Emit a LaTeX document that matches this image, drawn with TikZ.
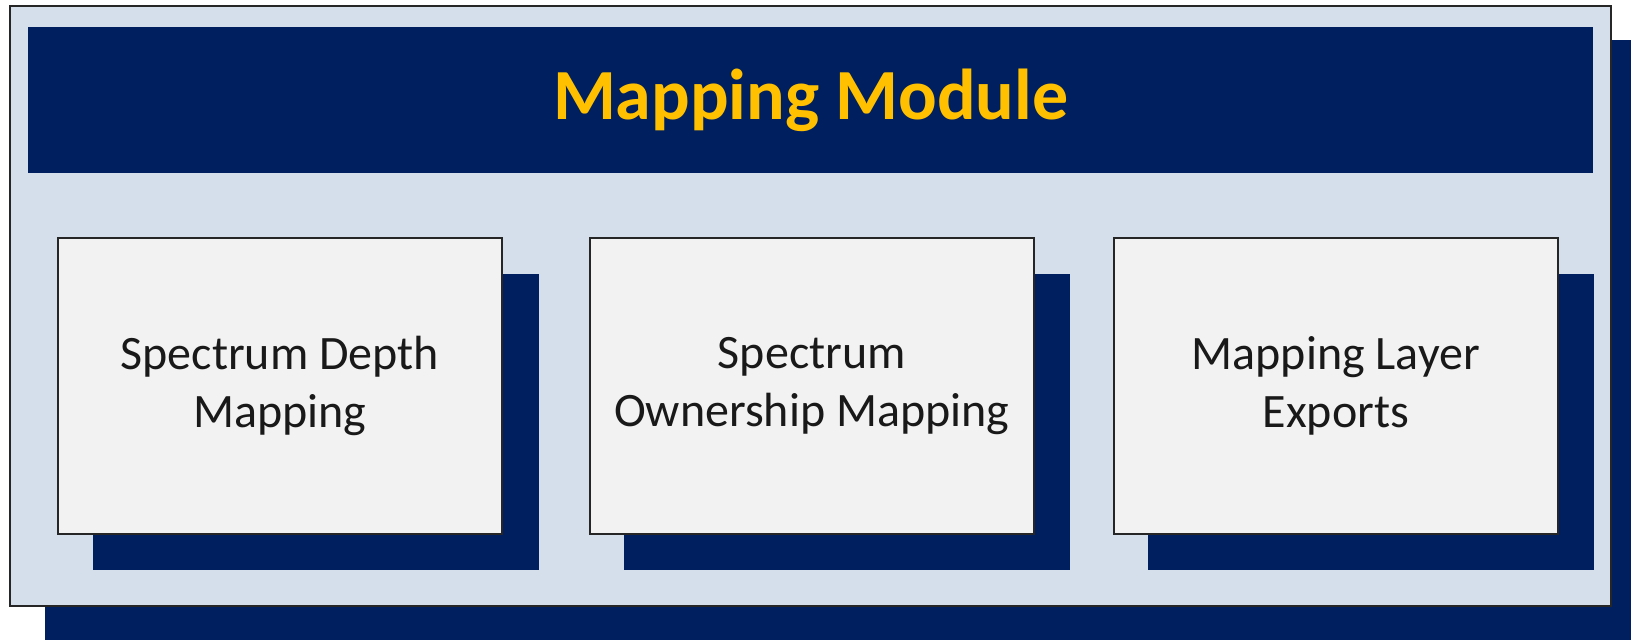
\documentclass[tikz,border=0pt]{standalone}
\usepackage{fontspec}
\setmainfont{Carlito}
\definecolor{navy}{HTML}{001F5F}
\definecolor{paleblue}{HTML}{D5DFEB}
\definecolor{boxgray}{HTML}{F2F2F2}
\definecolor{gold}{HTML}{FFC000}
\begin{document}
\begin{tikzpicture}[x=1pt,y=-1pt,
  shadowbox/.style={fill=navy,draw=none,anchor=north west,inner sep=0pt,minimum width=446pt,minimum height=296pt},
  modbox/.style={fill=boxgray,draw=black!85,line width=1.6pt,anchor=north west,inner sep=0pt,
    minimum width=444pt,minimum height=296pt,align=center,
    font=\fontsize{48}{57.6}\selectfont,text=black!90}]
\useasboundingbox (0,0) rectangle (1631,640);
\fill[white] (0,0) rectangle (1631,640);
% outer shadow and frame
\node[fill=navy,anchor=north west,inner sep=0pt,minimum width=1600pt,minimum height=610pt] (outershadow) at (45,40) {};
\node[fill=paleblue,draw=black!85,line width=1.6pt,anchor=north west,inner sep=0pt,minimum width=1601pt,minimum height=600pt] (frame) at (9,5) {};
% banner
\node[fill=navy,anchor=north west,inner sep=0pt,minimum width=1565pt,minimum height=146pt,
  text=gold,font=\fontsize{72}{80}\bfseries\selectfont] (banner) at (28,27) {Mapping Module};
% module boxes
\node[shadowbox] (s1) at (93,274) {};
\node[shadowbox] (s2) at (624,274) {};
\node[shadowbox] (s3) at (1148,274) {};
\node[modbox] (b1) at (57,237) {Spectrum Depth\\Mapping};
\node[modbox] (b2) at (589,237) {Spectrum\\Ownership Mapping};
\node[modbox] (b3) at (1113,237) {Mapping Layer\\Exports};
\end{tikzpicture}
\end{document}
